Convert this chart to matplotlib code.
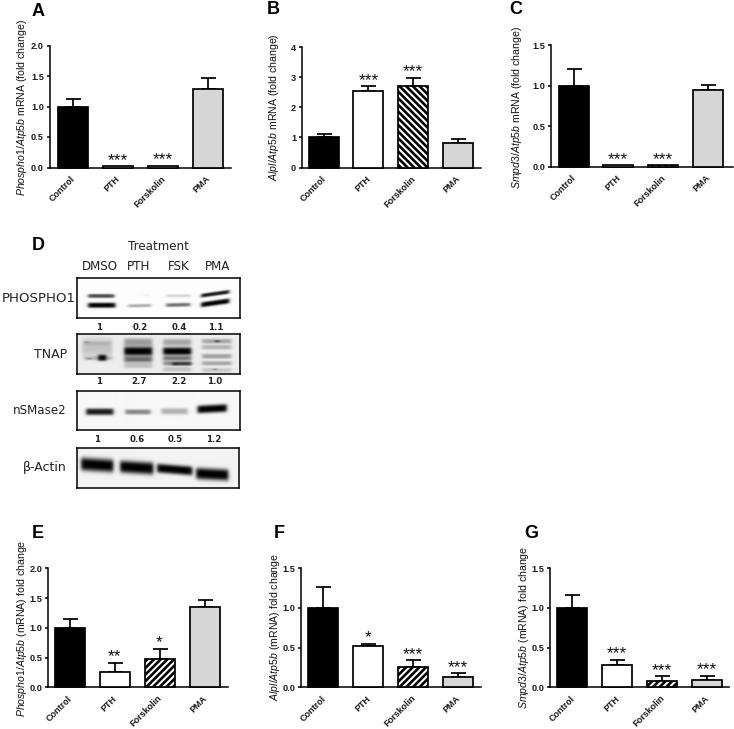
import numpy as np
import matplotlib
matplotlib.use('Agg')
import matplotlib.pyplot as plt

plt.rcParams['font.family'] = ['Liberation Sans', 'DejaVu Sans']
plt.rcParams['mathtext.fontset'] = 'custom'
plt.rcParams['mathtext.it'] = 'Liberation Sans:italic'
plt.rcParams['mathtext.rm'] = 'Liberation Sans'
plt.rcParams['hatch.linewidth'] = 1.9

W, H = 734, 729
categories = ['Control', 'PTH', 'Forskolin', 'PMA']

# ---- data: bar means, error tops, significance marks
a_vals = [1.0, 0.02, 0.03, 1.28];  a_tops = [1.13, 0.02, 0.03, 1.46];  a_sig = ['', '***', '***', '']
b_vals = [1.0, 2.55, 2.70, 0.82];  b_tops = [1.10, 2.70, 2.98, 0.95];  b_sig = ['', '***', '***', '']
c_vals = [1.0, 0.015, 0.015, 0.95]; c_tops = [1.21, 0.015, 0.015, 1.01]; c_sig = ['', '***', '***', '']
e_vals = [1.0, 0.25, 0.47, 1.35];  e_tops = [1.15, 0.41, 0.65, 1.47];  e_sig = ['', '**', '*', '']
f_vals = [1.0, 0.515, 0.26, 0.13]; f_tops = [1.27, 0.55, 0.34, 0.18];  f_sig = ['', '*', '***', '***']
g_vals = [1.0, 0.28, 0.08, 0.095]; g_tops = [1.165, 0.35, 0.14, 0.145]; g_sig = ['', '***', '***', '***']

a_ticks = [0, 0.5, 1.0, 1.5, 2.0]
b_ticks = [0, 1, 2, 3, 4]
c_ticks = [0, 0.5, 1.0, 1.5]

fig = plt.figure(figsize=(W / 100, H / 100), dpi=100, facecolor='white')


def px_axes(l, r, top, bottom):
    return fig.add_axes([l / W, 1 - bottom / H, (r - l) / W, (bottom - top) / H])


def bar_panel(letter, lpos, ylabel, ylab_x, ylab_y, box, c0, step, ticks, fmt, vals, tops, sig, hatch):
    l, r, top, bottom = box
    ax = px_axes(l, r, top, bottom)
    xs = np.arange(4)
    styles = [dict(facecolor='black'), dict(facecolor='white'),
              dict(facecolor='white', hatch=hatch), dict(facecolor='#d6d6d6')]
    errs = np.array(tops) - np.array(vals)
    for i in range(4):
        ax.bar(xs[i], vals[i], width=30 / step, edgecolor='black', linewidth=1.25, clip_on=False, zorder=3, **styles[i])
        if errs[i] > 0:
            ax.errorbar(xs[i], vals[i], yerr=[[0], [errs[i]]], color='black', elinewidth=1.25,
                        capsize=5.4, capthick=1.25, zorder=2, clip_on=False)
        if sig[i]:
            ax.annotate(sig[i], (xs[i], tops[i]), xytext=(0, 1), textcoords='offset points',
                        ha='center', va='baseline', fontsize=12.5, color='#111111', zorder=5, annotation_clip=False)
    ax.set_xlim((l - c0) / step, (r - c0) / step)
    ax.set_ylim(0, ticks[-1])
    ax.set_yticks(ticks)
    ax.set_yticklabels([fmt % t for t in ticks], fontsize=6.6, fontweight='bold', color='#1a1a1a')
    ax.set_xticks(xs + 0.02)
    ax.set_xticklabels(categories, rotation=45, ha='right', va='center', rotation_mode='anchor',
                       fontsize=6.5, fontweight='bold', color='#1a1a1a')
    ax.tick_params(axis='y', length=2.5, width=1.1, pad=1.5)
    ax.tick_params(axis='x', length=0, pad=7)
    for s in ['top', 'right']:
        ax.spines[s].set_visible(False)
    for s in ['left', 'bottom']:
        ax.spines[s].set_linewidth(1.1)
    fig.text(ylab_x / W, 1 - ylab_y / H, ylabel, rotation=90, ha='center', va='center', fontsize=7.6, color='#111111')
    fig.text(lpos[0] / W, 1 - lpos[1] / H, letter, fontsize=13, fontweight='bold', ha='center', va='center')


bar_panel('A', (38, 11), r'$\mathit{Phospho1/Atp5b}$ mRNA (fold change)', 22, 107,
          (49.5, 231, 45.5, 167.5), 72.5, 45.2, a_ticks, '%.1f', a_vals, a_tops, a_sig, '')
bar_panel('B', (273, 10), r'$\mathit{Alpl/Atp5b}$ mRNA (fold change)', 274, 107,
          (301.7, 481, 47.3, 167.5), 323.7, 44.7, b_ticks, '%d', b_vals, b_tops, b_sig, '\\' * 5)
bar_panel('C', (516, 10), r'$\mathit{Smpd3/Atp5b}$ mRNA (fold change)', 517, 107,
          (550.7, 733, 45.3, 166.7), 573.5, 44.8, c_ticks, '%.1f', c_vals, c_tops, c_sig, '\\' * 5)
bar_panel('E', (38, 534), r'$\mathit{Phospho1/Atp5b}$ (mRNA) fold change', 22, 628,
          (48, 228, 568.3, 687.3), 69.5, 45, a_ticks, '%.1f', e_vals, e_tops, e_sig, '/' * 5)
bar_panel('F', (279, 534), r'$\mathit{Alpl/Atp5b}$ (mRNA) fold change', 275.5, 627,
          (301, 481, 568.3, 687.3), 323.3, 44.9, c_ticks, '%.1f', f_vals, f_tops, f_sig, '/' * 5)
bar_panel('G', (531, 534), r'$\mathit{Smpd3/Atp5b}$ (mRNA) fold change', 524, 627,
          (550, 729, 568.3, 687.3), 572.3, 44.8, c_ticks, '%.1f', g_vals, g_tops, g_sig, '/' * 5)

# ---- western blot: bands are (x0, x1, yc, tilt, thickness, darkness) in picture pixels
blot_phospho = [(88, 114, 295.7, 0, 2.0, 0.7), (88, 115, 305, 0, 2.6, 1.0),
                (128, 151, 305.4, -0.02, 1.6, 0.32), (143, 150, 295, 0, 1.2, 0.05),
                (166, 190, 295.5, 0, 1.5, 0.16), (166, 190, 304.6, -0.02, 1.9, 0.55),
                (201, 229, 293.5, -0.14, 2.0, 0.9), (201, 229, 302.6, -0.14, 2.6, 1.0)]
blot_tnap = [(82, 112, 347, 0, 9.0, 0.18), (84, 110, 343, 0, 2.0, 0.1), (84, 112, 358, 0, 2.0, 0.2),
             (98, 106, 357.5, 0, 3.2, 1.0), (124, 152, 351, 0, 4.6, 1.0), (124, 152, 342, 0, 4.0, 0.35),
             (124, 152, 359, 0, 3.0, 0.55), (124, 152, 365, 0, 3.0, 0.2),
             (163, 191, 351, 0, 4.0, 1.0), (163, 191, 342, 0, 3.5, 0.3), (163, 191, 358, 0, 2.4, 0.5),
             (163, 191, 363, 0, 2.4, 0.4), (172, 191, 363.5, 0, 1.8, 0.6), (163, 191, 369, 0, 2.4, 0.18),
             (202, 231, 341, 0, 2.4, 0.3), (202, 231, 347, 0, 2.4, 0.24), (202, 231, 356, 0, 2.4, 0.32),
             (202, 231, 363, 0, 2.2, 0.3), (202, 231, 370, 0, 2.4, 0.15),
             (215, 219, 341, 0, 1.0, 0.7), (85, 87, 342, 0, 0.7, 0.5), (88, 90, 358.5, 0, 0.7, 0.6),
             (213, 216, 369, 0, 0.6, 0.6), (174, 176, 364, 0, 0.8, 0.7)]
blot_nsmase = [(86, 113, 411.5, 0, 3.4, 0.88), (125, 150, 411.7, 0, 2.6, 0.45),
               (161, 187, 411, 0, 3.2, 0.28), (197, 226, 408.5, -0.05, 4.0, 1.0)]
blot_actin = [(81, 113, 464.7, 0.06, 6.6, 1.0), (120, 153, 467.3, 0.06, 6.2, 1.0),
              (157, 192, 469.3, 0.08, 4.6, 1.0), (196, 228, 474, 0.05, 5.8, 1.0)]
lanes = ['DMSO', 'PTH', 'FSK', 'PMA']
lane_x = [100, 139, 179, 218]
blot_names = ['PHOSPHO1', 'TNAP', 'nSMase2', 'β-Actin']
quant_phospho = ['1', '0.2', '0.4', '1.1']
quant_tnap = ['1', '2.7', '2.2', '1.0']
quant_nsmase = ['1', '0.6', '0.5', '1.2']


def blot(box, bands, bg, name, name_right, name_size):
    l, r, t, b = box
    ax = px_axes(l, r, t, b)
    xx, yy = np.meshgrid(np.arange(l, r, 0.5), np.arange(t, b, 0.5))
    keep = np.ones_like(xx)
    for x0, x1, yc, tilt, th, dark in bands:
        sx = (1 / (1 + np.exp(-(xx - x0) / 1.0))) * (1 / (1 + np.exp((xx - x1) / 1.0)))
        sy = np.exp(-(np.abs((yy - yc - tilt * (xx - (x0 + x1) / 2)) / th) ** 3))
        keep *= 1 - np.clip(dark, 0, 1) * sx * sy
    ax.imshow(bg * keep, cmap='gray', vmin=0, vmax=1, extent=(l, r, b, t), aspect='auto', interpolation='bilinear')
    ax.set_xticks([])
    ax.set_yticks([])
    for s in ax.spines.values():
        s.set_linewidth(1.1)
    fig.text(name_right / W, 1 - (t + b) / 2 / H, name, ha='right', va='center',
             fontsize=name_size, family='DejaVu Sans', color='#222222')


blot((77, 240, 278, 318), blot_phospho, 0.99, blot_names[0], 76, 9.6)
blot((77, 240, 334, 374), blot_tnap, 0.93, blot_names[1], 67, 9)
blot((77, 239.5, 391, 430), blot_nsmase, 0.97, blot_names[2], 67, 8.6)
blot((77, 239, 448, 488), blot_actin, 0.95, blot_names[3], 67, 9)

fig.text(158 / W, 1 - 246 / H, 'Treatment', ha='center', va='center', fontsize=8.6, family='DejaVu Sans', color='#222222')
for x, s in zip(lane_x, lanes):
    fig.text(x / W, 1 - 267 / H, s, ha='center', va='center', fontsize=8.6, family='DejaVu Sans', color='#222222')
for y, q, xs in [(327.5, quant_phospho, [99, 140, 179, 216]),
                 (382, quant_tnap, [99, 139, 179, 215]),
                 (439.5, quant_nsmase, [97, 137, 175, 214])]:
    for x, s in zip(xs, q):
        fig.text(x / W, 1 - y / H, s, ha='center', va='center', fontsize=6.2, fontweight='bold',
                 family='DejaVu Sans', color='#222222')
fig.text(38 / W, 1 - 245 / H, 'D', fontsize=13, fontweight='bold', ha='center', va='center')

fig.savefig('out.png', dpi=100, facecolor='white')
